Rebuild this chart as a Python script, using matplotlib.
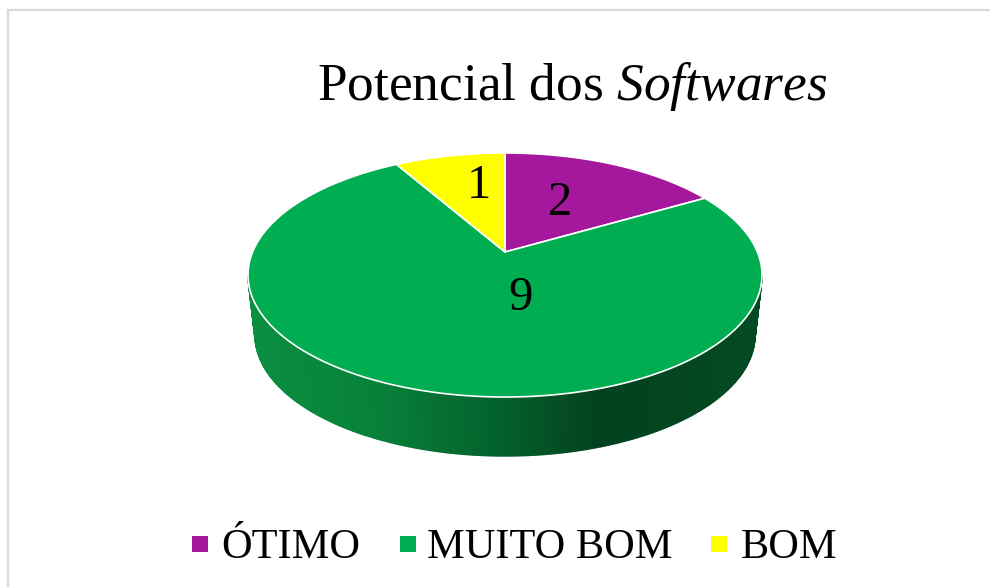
import numpy as np
import matplotlib
matplotlib.use('Agg')
import matplotlib.pyplot as plt
from matplotlib.colors import LinearSegmentedColormap
from matplotlib.patches import Polygon, Rectangle

plt.rcParams['font.family'] = ['Liberation Serif']
plt.rcParams['mathtext.fontset'] = 'custom'
plt.rcParams['mathtext.rm'] = 'Liberation Serif'
plt.rcParams['mathtext.it'] = 'Liberation Serif:italic'

# Data
categories = ['ÓTIMO', 'MUITO BOM', 'BOM']
values = [2, 9, 1]
colors = ['#A5179C', '#00AD50', '#FFFF00']

# Layout, in pixels of the 990x587 picture
CX, APEX_Y = 505, 252
KP, AY, BX = 0.1885, 117.7, 252.4  # perspective of the pie top
label_pos = [(560, 203), (521, 298), (479, 186)]
swatch_x = [192, 400, 711]
legend_x = [221, 427, 741]

fig = plt.figure(figsize=(9.9, 5.87), dpi=100)
ax = fig.add_axes([0, 0, 1, 1])
ax.set_xlim(0, 990)
ax.set_ylim(587, 0)
ax.axis('off')

# frame of the pasted chart, only left and top show
ax.plot([8, 8, 990], [587, 10, 10], color='#d9d9d9', lw=1.6, solid_joinstyle='miter')


def project(theta):
    # theta clockwise from 12 o'clock, gives pixel coordinates on the tilted disc
    x, y = np.sin(theta), np.cos(theta)
    w = 1 + KP * y
    return CX + BX * x / w, APEX_Y - AY * y / w


# side wall, strips shaded along x
side_cmap = LinearSegmentedColormap.from_list('side', [
    (0.0, '#0A8F40'), (0.25, '#07803A'), (0.5, '#045F2B'),
    (0.68, '#03421F'), (1.0, '#034A22')])
phi = np.linspace(0, np.pi, 241)
top_x, top_y = 505 + 257 * np.cos(phi), 275 + 122 * np.sin(phi)
bot_x, bot_y = 505 + 250 * np.cos(phi), 335 + 121 * np.sin(phi)
for i in range(len(phi) - 1):
    pts = [(top_x[i], top_y[i]), (top_x[i + 1], top_y[i + 1]),
           (bot_x[i + 1], bot_y[i + 1]), (bot_x[i], bot_y[i])]
    shade = side_cmap((top_x[i] + top_x[i + 1] - 2 * 248) / (2 * 514))
    ax.add_patch(Polygon(pts, closed=True, facecolor=shade, edgecolor=shade, lw=1.0))

# top of the pie
edges = np.cumsum([0] + values) / sum(values) * 2 * np.pi
for start, stop, col in zip(edges[:-1], edges[1:], colors):
    t = np.linspace(start, stop, 200)
    px, py = project(t)
    pts = np.column_stack([np.r_[CX, px], np.r_[APEX_Y, py]])
    ax.add_patch(Polygon(pts, closed=True, facecolor=col, edgecolor='white', lw=1.2, zorder=3))

for v, (lx, ly) in zip(values, label_pos):
    ax.text(lx, ly, str(v), fontsize=35, ha='center', va='center', color='black', zorder=4)

ax.text(572, 100, r'Potencial dos $\mathit{Softwares}$', fontsize=38.4, ha='center',
        va='baseline', color='black')

for name, col, sx, tx in zip(categories, colors, swatch_x, legend_x):
    ax.add_patch(Rectangle((sx, 536), 16, 16, facecolor=col, edgecolor='none'))
    ax.text(tx, 558, name, fontsize=30.5, ha='left', va='baseline', color='black')

fig.savefig('out.png', dpi=100)
